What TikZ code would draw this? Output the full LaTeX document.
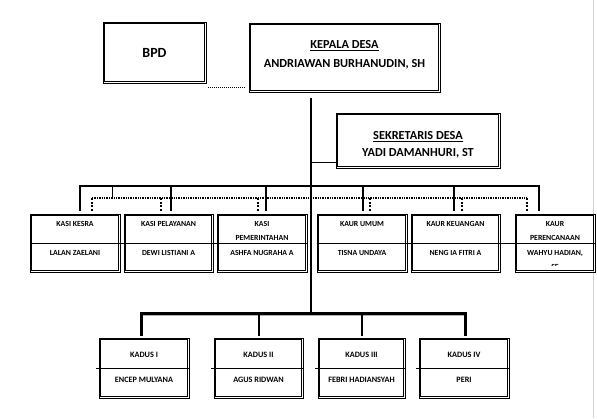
\documentclass[tikz,border=0pt]{standalone}
\usepackage{fontspec}
\setmainfont{Carlito}

\begin{document}
\begin{tikzpicture}[x=1pt, y=-1pt,
    orgbox/.style={draw, line width=0.6pt, inner sep=0pt},
    innerline/.style={line width=0.6pt},
    big/.style={font=\fontsize{12.3}{14}\selectfont\bfseries, inner sep=0pt, anchor=base},
    mid/.style={font=\fontsize{7.8}{14}\selectfont\bfseries, align=center, inner sep=0pt, anchor=north},
    low/.style={font=\fontsize{8.2}{9}\selectfont\bfseries, inner sep=0pt},
    bus/.style={line width=2pt},
    dotbus/.style={line width=1.4pt, dash pattern=on 1.4pt off 1pt},
    dotdrop/.style={line width=2.4pt, dash pattern=on 2pt off 1.6pt}]
    \useasboundingbox (0,0) rectangle (597,418);
    \draw[gray!35, line width=1pt] (593,0) -- (593,418);

    % pimpinan
    \node (bpd) [orgbox, minimum width=103pt, minimum height=61pt, font=\fontsize{14}{16}\selectfont\bfseries] at (154.5,52.5) {BPD};
    \node (kepala) [orgbox, minimum width=191pt, minimum height=69pt] at (344.5,57.5) {};
    \node (kepalaA) [big] at ([yshift=9pt]kepala.center) {\underline{KEPALA DESA}};
    \node (kepalaB) [big] at ([yshift=-10pt]kepala.center) {ANDRIAWAN BURHANUDIN, SH};
    \node (sekdes) [orgbox, minimum width=164pt, minimum height=55pt] at (418,140.5) {};
    \node (sekdesA) [big] at ([yshift=1.2pt]sekdes.center) {\underline{SEKRETARIS DESA}};
    \node (sekdesB) [big] at ([yshift=-15.5pt]sekdes.center) {YADI DAMANHURI, ST};

    \coordinate (bpdlink) at ([yshift=-4pt]bpd.south east);
    \draw[line width=1pt, dash pattern=on 1pt off 1pt] ([xshift=2pt]bpdlink) -- ([xshift=-4pt]bpdlink -| kepala.west);

    % garis utama
    \coordinate (trunktop) at ([xshift=-33.5pt,yshift=-6pt]kepala.south);
    \coordinate (topbus) at (311,186);
    \coordinate (dotline) at (311,198);
    \coordinate (lowbus) at (311,313);
    \draw[bus] (trunktop) -- (lowbus);
    \draw[line width=1.2pt] ([yshift=6pt]sekdes.south west) -- ([yshift=6pt]sekdes.south west -| trunktop);

    % kasi dan kaur
    \foreach \name/\cx/\bw/\ta/\tb in {kesra/75/90/{KASI KESRA}/{LALAN ZAELANI},
        pelayanan/168.5/89/{KASI PELAYANAN}/{DEWI LISTIANI A},
        pemerintahan/262/90/{KASI\\PEMERINTAHAN}/{ASHFA NUGRAHA A},
        umum/362/90/{KAUR UMUM}/{TISNA UNDAYA},
        keuangan/455.5/89/{KAUR KEUANGAN}/{NENG IA FITRI A},
        perencanaan/555/80/{KAUR\\PERENCANAAN}/{WAHYU HADIAN,\\SE}} {
        \node (\name) [orgbox, minimum width=\bw pt, minimum height=58pt] at (\cx,243) {};
        \node (\name-top) [mid] at ([yshift=-7.7pt]\name.north) {\ta};
        \begin{scope}
            \clip ([yshift=7pt]\name.south west) rectangle (\name.north east);
            \node (\name-bot) [mid] at ([yshift=-7pt]\name.center) {\tb};
        \end{scope}
    }
    \draw[line width=0.6pt] (kesra.west) -- (pemerintahan.east);
    \draw[line width=0.6pt] (umum.west) -- (perencanaan.east);

    % garis komando
    \draw[bus] ([shift={(5pt,3pt)}]kesra.north) -- ([xshift=5pt]kesra.north |- topbus)
        -- ([xshift=-16pt]perencanaan.north |- topbus) -- ([shift={(-16pt,3pt)}]perencanaan.north);
    \foreach \name/\dx in {pelayanan/2.5, pemerintahan/4, umum/1, keuangan/-1.5}
        \draw[bus] ([xshift=\dx pt]\name.north |- topbus) -- ([shift={(\dx pt,3pt)}]\name.north);
    \draw[line width=0.4pt] ([xshift=37pt]kesra.north |- topbus) -- ([xshift=37pt]kesra.north |- dotline);

    % garis koordinasi
    \draw[dotbus] ([xshift=17pt]kesra.north |- dotline) -- ([xshift=-28pt]perencanaan.north |- dotline);
    \foreach \name/\dx in {kesra/17, pelayanan/-7.5, pemerintahan/-4, umum/8, keuangan/6.5, perencanaan/-28}
        \draw[dotdrop] ([xshift=\dx pt]\name.north |- dotline) -- ([shift={(\dx pt,3pt)}]\name.north);

    % kadus
    \foreach \name/\cx/\bw/\ta/\tb in {kadusA/144/90/{KADUS I}/{ENCEP MULYANA},
        kadusB/258.5/89/{KADUS II}/{AGUS RIDWAN},
        kadusC/361.5/87/{KADUS III}/{FEBRI HADIANSYAH},
        kadusD/464/90/{KADUS IV}/{PERI}} {
        \node (\name) [orgbox, minimum width=\bw pt, minimum height=60pt] at (\cx,368) {};
        \draw[line width=0.6pt] ([xshift=-3pt]\name.west) -- (\name.east);
        \node (\name-top) [low] at ([yshift=13pt]\name.center) {\ta};
        \node (\name-bot) [low] at ([yshift=-12pt]\name.center) {\tb};
    }
    \draw[gray!60, line width=2pt] ([shift={(-4pt,-2pt)}]kadusA.north |- lowbus) -- ([shift={(1pt,-2pt)}]kadusD.north |- lowbus);
    \draw[line width=3pt] ([shift={(-3pt,2pt)}]kadusA.north) -- ([xshift=-3pt]kadusA.north |- lowbus)
        -- ([xshift=1pt]kadusD.north |- lowbus) -- ([shift={(1pt,2pt)}]kadusD.north);
    \foreach \name in {kadusB, kadusC}
        \draw[bus] (\name.north |- lowbus) -- ([yshift=2pt]\name.north);

    % garis dalam kotak
    \foreach \name in {bpd, kepala, sekdes, kesra, pelayanan, pemerintahan, umum, keuangan, perencanaan, kadusA, kadusB, kadusC, kadusD}
        \draw[innerline] ([shift={(2pt,2pt)}]\name.south west) rectangle ([shift={(-2pt,-2pt)}]\name.north east);
\end{tikzpicture}
\end{document}
